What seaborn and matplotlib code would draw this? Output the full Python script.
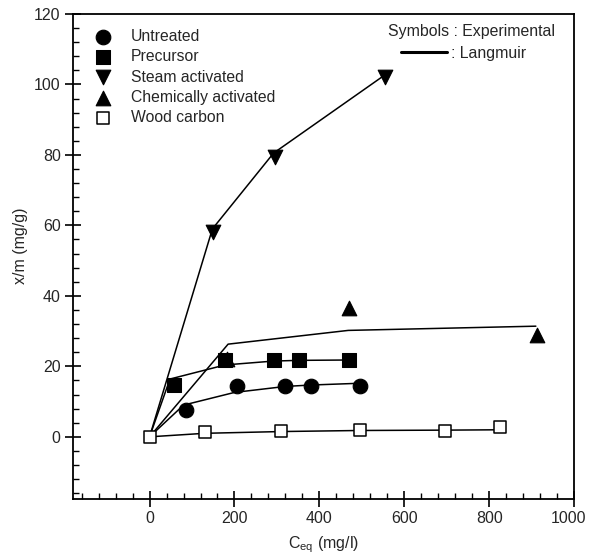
import matplotlib
matplotlib.use('Agg')
import matplotlib.pyplot as plt
import matplotlib.transforms as mtransforms
import seaborn as sns
from matplotlib.ticker import MultipleLocator

# experimental points (C_eq in mg/l, x/m in mg/g)
untreated_x = [85, 205, 320, 380, 495]
untreated_y = [7.5, 14.5, 14.5, 14.5, 14.5]
precursor_x = [57, 178, 292, 352, 470]
precursor_y = [14.6, 21.7, 21.7, 21.7, 21.7]
steam_x = [150, 295, 555]
steam_y = [58.0, 79.5, 102.0]
chemical_x = [182, 470, 912]
chemical_y = [22.0, 36.6, 29.0]
wood_x = [0, 130, 310, 495, 695, 825]
wood_y = [0, 1.3, 1.6, 1.8, 1.7, 2.7]

# Langmuir fit lines
untreated_fit_x = [0, 80, 200, 320, 380, 495]
untreated_fit_y = [0, 9.0, 12.6, 14.3, 14.7, 15.2]
precursor_fit_x = [0, 48, 178, 292, 352, 470]
precursor_fit_y = [0, 16.4, 20.4, 21.5, 21.7, 21.8]
steam_fit_x = [0, 148, 292, 552]
steam_fit_y = [0, 59.0, 80.5, 102.5]
chemical_fit_x = [0, 185, 468, 910]
chemical_fit_y = [0, 26.3, 30.2, 31.4]
wood_fit_x = [0, 130, 310, 495, 695, 825]
wood_fit_y = [0, 1.0, 1.5, 1.8, 1.9, 2.0]

sns.set_style('ticks')
plt.rcParams['font.family'] = ['Liberation Sans', 'DejaVu Sans']
plt.rcParams['mathtext.fontset'] = 'custom'
plt.rcParams['mathtext.rm'] = 'Liberation Sans'

fig = plt.figure(figsize=(5.9, 5.58), dpi=100)
ax = fig.add_axes([0.124, 0.106, 0.849, 0.869])

fits = [
    (untreated_fit_x, untreated_fit_y),
    (precursor_fit_x, precursor_fit_y),
    (steam_fit_x, steam_fit_y),
    (chemical_fit_x, chemical_fit_y),
    (wood_fit_x, wood_fit_y),
]
for fx, fy in fits:
    sns.lineplot(x=fx, y=fy, ax=ax, color='black', linewidth=1.1, sort=False, zorder=2)

sns.scatterplot(x=untreated_x, y=untreated_y, ax=ax, marker='o', s=110,
                color='black', edgecolor='black', label='Untreated', zorder=3)
sns.scatterplot(x=precursor_x, y=precursor_y, ax=ax, marker='s', s=90,
                color='black', edgecolor='black', label='Precursor', zorder=3)
sns.scatterplot(x=steam_x, y=steam_y, ax=ax, marker='v', s=110,
                color='black', edgecolor='black', label='Steam activated', zorder=3)
sns.scatterplot(x=chemical_x, y=chemical_y, ax=ax, marker='^', s=110,
                color='black', edgecolor='black', label='Chemically activated', zorder=3)
sns.scatterplot(x=wood_x, y=wood_y, ax=ax, marker='s', s=80,
                color='white', edgecolor='black', linewidth=1.1, label='Wood carbon', zorder=4)

ax.set_xlim(-180, 1000)
ax.set_ylim(-17.6, 120)
ax.xaxis.set_major_locator(MultipleLocator(200))
ax.xaxis.set_minor_locator(MultipleLocator(40))
ax.yaxis.set_major_locator(MultipleLocator(20))
ax.yaxis.set_minor_locator(MultipleLocator(4))
ax.tick_params(which='major', direction='inout', length=11, width=1.2, labelsize=11.5, color='black')
ax.tick_params(which='minor', direction='in', length=4.5, width=1.0, color='black')
for sp in ax.spines.values():
    sp.set_linewidth(1.3)
    sp.set_color('black')

# nudge the last x tick label left so it stays inside the figure
fig.canvas.draw()
shift = mtransforms.ScaledTranslation(-6 / 100, 0, fig.dpi_scale_trans)
for lab in ax.get_xticklabels():
    if lab.get_text() == '1000':
        lab.set_transform(lab.get_transform() + shift)

ax.set_xlabel(r'C$_{\rm eq}$ (mg/l)', fontsize=11.5, labelpad=6)
ax.set_ylabel('x/m (mg/g)', fontsize=11.5)
ax.yaxis.set_label_coords(-0.09, 0.522)

leg = ax.legend(loc='upper left', bbox_to_anchor=(0.01, 0.988), frameon=False,
                fontsize=11.3, labelspacing=0.33, handletextpad=0.75, borderaxespad=0.2)

ax.text(0.628, 0.963, 'Symbols : Experimental', transform=ax.transAxes,
        fontsize=11.4, va='center', ha='left')
ax.plot([0.655, 0.746], [0.921, 0.921], transform=ax.transAxes, color='black', linewidth=2.2)
ax.text(0.754, 0.919, ': Langmuir', transform=ax.transAxes,
        fontsize=11.4, va='center', ha='left')

plt.savefig('out.png', dpi=100)
